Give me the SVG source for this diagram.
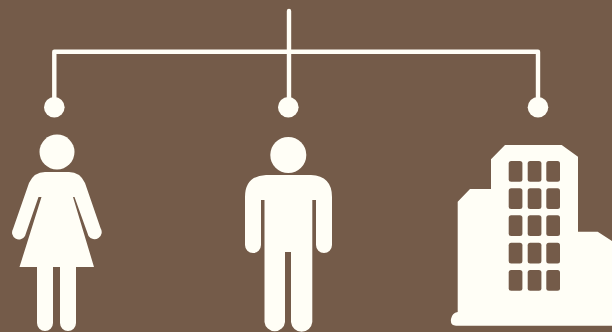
<svg xmlns="http://www.w3.org/2000/svg" width="612" height="332" viewBox="0 0 612 332">
<style>
.f{fill:#fffef6}
.w{fill:#745b49}
.l{fill:none;stroke:#fffef6;stroke-width:4.400;stroke-linecap:round;stroke-linejoin:round}
</style>
<rect width="612" height="332" fill="#745b49"/>
<g id="connectors">
<path class="l" d="M289 11V107M54.300 107V51.700H538V107"/>
</g>
<g id="dot-left"><circle class="f" cx="54.300" cy="107.300" r="10.300"/></g>
<g id="dot-center"><circle class="f" cx="288.300" cy="107.300" r="10.300"/></g>
<g id="dot-right"><circle class="f" cx="538" cy="107.300" r="10.300"/></g>
<g id="woman">
<circle class="f" cx="57" cy="152" r="17.500"/>
<path class="f" d="M45 172H69Q80 172 85 183L100.500 228A6.300 6.300 0 0 1 88.500 236L74.500 197H73L94 267H76V323A8 8 0 0 1 60 323V267H53V323A8 8 0 0 1 37 323V267H19.500L41.500 197H38.500L25 236A6.300 6.300 0 0 1 13 229L29 183Q34 172 45 172Z"/>
</g>
<g id="man">
<circle class="f" cx="288.300" cy="155" r="18"/>
<path class="f" d="M266 175H311Q332 176 332 197V245A8 8 0 0 1 316 245V200H312.300V322A10.700 10.700 0 0 1 291 322V252H285V322A10.300 10.300 0 0 1 264.500 322V200H261V245A8 8 0 0 1 245 245V197Q245 176 266 175Z"/>
</g>
<g id="building">
<path class="f" d="M505 145H561.700L578 156.700V231.700H597.700L612 241V325.700H456Q450 325.700 451 319Q452 313 457.700 312V201.700L470 189H491V159.300Z"/>
<g class="w">
<rect x="508.700" y="161" width="13.700" height="20.700" rx="2.500"/><rect x="527.700" y="161" width="13.700" height="20.700" rx="2.500"/><rect x="546.300" y="161" width="13.700" height="20.700" rx="2.500"/>
<rect x="508.700" y="188.300" width="13.700" height="20.700" rx="2.500"/><rect x="527.700" y="188.300" width="13.700" height="20.700" rx="2.500"/><rect x="546.300" y="188.300" width="13.700" height="20.700" rx="2.500"/>
<rect x="508.700" y="215.300" width="13.700" height="20.700" rx="2.500"/><rect x="527.700" y="215.300" width="13.700" height="20.700" rx="2.500"/><rect x="546.300" y="215.300" width="13.700" height="20.700" rx="2.500"/>
<rect x="508.700" y="242.700" width="13.700" height="20.700" rx="2.500"/><rect x="527.700" y="242.700" width="13.700" height="20.700" rx="2.500"/><rect x="546.300" y="242.700" width="13.700" height="20.700" rx="2.500"/>
<rect x="508.700" y="270" width="13.700" height="20.700" rx="2.500"/><rect x="527.700" y="270" width="13.700" height="20.700" rx="2.500"/><rect x="546.300" y="270" width="13.700" height="20.700" rx="2.500"/>
</g>
</g>
</svg>
